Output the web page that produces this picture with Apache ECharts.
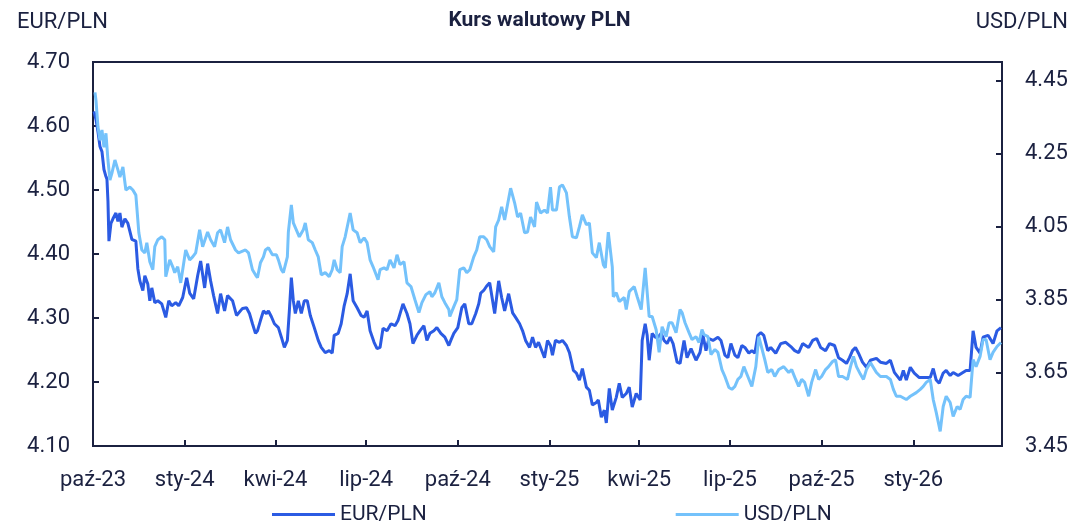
<!DOCTYPE html>
<html>
<head>
<meta charset="utf-8">
<script src="https://cdn.jsdelivr.net/npm/echarts@6/dist/echarts.min.js"></script>
<style>html,body{margin:0;padding:0;background:#fff}#c{width:1079px;height:524px}</style>
</head>
<body>
<div id="c"></div>
<script>
// x values are days since 2023-10-01
const quarterDays = [0, 92, 183, 274, 366, 458, 548, 639, 731, 823];
const quarterLabels = ['paź-23','sty-24','kwi-24','lip-24','paź-24','sty-25','kwi-25','lip-25','paź-25','sty-26'];
const eurTicks = [4.10, 4.20, 4.30, 4.40, 4.50, 4.60, 4.70];
const usdTicks = [3.45, 3.65, 3.85, 4.05, 4.25, 4.45];
const seriesNames = ['EUR/PLN', 'USD/PLN'];

const eurPoints = [[1,4.623],[3,4.610],[5,4.591],[7,4.568],[9,4.560],[11,4.532],[13,4.521],[14,4.517],[15,4.483],[16,4.420],[18,4.448],[20,4.455],[23,4.464],[25,4.451],[27,4.464],[29,4.442],[32,4.455],[35,4.448],[39,4.423],[43,4.420],[45,4.377],[47,4.358],[50,4.343],[52,4.366],[55,4.353],[57,4.327],[59,4.347],[62,4.324],[65,4.327],[69,4.322],[73,4.301],[76,4.327],[79,4.319],[83,4.324],[86,4.319],[90,4.332],[94,4.363],[97,4.339],[101,4.330],[103,4.327],[105,4.366],[108,4.389],[112,4.347],[115,4.385],[118,4.358],[121,4.335],[125,4.307],[128,4.338],[132,4.311],[135,4.335],
[140,4.327],[144,4.304],[146,4.301],[150,4.315],[154,4.316],[157,4.307],[160,4.291],[163,4.276],[165,4.280],[168,4.296],[171,4.311],[174,4.307],[176,4.311],[179,4.302],[182,4.291],[186,4.285],[189,4.270],[192,4.254],[195,4.265],[197,4.311],[199,4.363],[201,4.327],[203,4.307],[206,4.327],[209,4.307],[212,4.327],[215,4.327],[218,4.304],[222,4.285],[226,4.265],[229,4.254],[233,4.246],[237,4.249],[240,4.245],[242,4.273],[246,4.276],[249,4.291],[252,4.319],[255,4.338],[258,4.369],[261,4.327],[265,4.316],[269,4.304],[272,4.301],[275,4.311],[278,4.280],[282,4.262],[285,4.252],[288,4.254],[291,4.284],[295,4.280],[299,4.291],[303,4.288],[306,4.296],[308,4.299],[311,4.322],[315,4.307],[318,4.291],[321,4.260],[325,4.273],[328,4.280],[332,4.288],[335,4.265],[338,4.276],[342,4.280],[345,4.285],[349,4.276],[353,4.270],[357,4.257],[359,4.265],[362,4.276],[366,4.285],[370,4.316],[373,4.322],[377,4.291],[380,4.291],[384,4.307],[387,4.322],[389,4.339],[392,4.343],[395,4.350],[398,4.355],[400,4.358],[403,4.307],[407,4.358],[410,4.332],[413,4.311],[417,4.338],
[421,4.308],[424,4.301],[428,4.291],[431,4.280],[434,4.265],[438,4.254],[441,4.270],[444,4.254],[447,4.262],[449,4.260],[453,4.238],[456,4.265],[459,4.257],[461,4.242],[464,4.265],[468,4.262],[471,4.265],[475,4.257],[478,4.246],[482,4.218],[485,4.214],[488,4.203],[491,4.221],[495,4.192],[498,4.187],[501,4.164],[505,4.168],[507,4.172],[510,4.145],[513,4.156],[515,4.136],[518,4.190],[521,4.156],[525,4.176],[528,4.198],[531,4.176],[535,4.182],[538,4.192],[541,4.161],[545,4.182],[549,4.172],[551,4.265],[554,4.291],[556,4.273],[558,4.234],[561,4.276],[564,4.270],[567,4.270],[570,4.276],[573,4.265],[576,4.260],[579,4.270],[582,4.260],[586,4.231],[589,4.229],[593,4.265],[596,4.238],[600,4.252],[605,4.234],[609,4.246],[612,4.273],[615,4.249],[618,4.268],[622,4.265],[627,4.270],[630,4.265],[634,4.242],[637,4.238],[640,4.260],[644,4.242],[647,4.238],[651,4.257],[654,4.254],[658,4.245],[661,4.249],[664,4.245],[667,4.273],[670,4.277],[673,4.273],[677,4.249],[680,4.254],[685,4.245],[690,4.260],[695,4.262],
[701,4.254],[704,4.249],[708,4.246],[712,4.260],[718,4.254],[722,4.265],[726,4.268],[730,4.254],[735,4.249],[739,4.260],[744,4.257],[748,4.238],[752,4.234],[756,4.229],[759,4.238],[762,4.249],[765,4.254],[768,4.245],[772,4.231],[776,4.223],[780,4.234],[786,4.237],[790,4.231],[796,4.229],[800,4.234],[804,4.215],[806,4.214],[810,4.203],[813,4.218],[816,4.203],[820,4.223],[824,4.214],[829,4.207],[835,4.207],[840,4.207],[843,4.221],[846,4.203],[849,4.198],[853,4.214],[856,4.218],[860,4.210],[863,4.215],[868,4.210],[872,4.214],[876,4.218],[880,4.218],[883,4.280],[886,4.254],[890,4.245],[893,4.270],[898,4.273],[903,4.260],[907,4.280],[911,4.285]];

const usdPoints = [[2,4.417],[3,4.395],[5,4.322],[7,4.286],[9,4.314],[11,4.267],[13,4.305],[15,4.232],[17,4.177],[19,4.196],[22,4.232],[25,4.205],[27,4.185],[30,4.213],[32,4.218],[33,4.150],[37,4.158],[40,4.150],[43,4.136],[46,4.033],[49,3.986],[52,3.978],[54,4.006],[57,3.954],[60,3.932],[62,3.995],[65,4.014],[69,4.022],[72,4.014],[73,3.913],[77,3.959],[80,3.940],[82,3.924],[85,3.940],[88,3.896],[90,3.932],[93,3.986],[97,3.959],[100,3.967],[103,3.978],[107,4.041],[110,3.995],[115,4.035],[118,4.014],[122,3.995],[125,4.033],[128,4.041],[132,4.006],[135,4.049],[138,4.014],
[143,3.986],[146,3.978],[153,3.986],[156,3.978],[160,3.932],[163,3.918],[165,3.910],[168,3.951],[171,3.967],[173,3.986],[176,3.992],[180,3.973],[184,3.973],[186,3.959],[189,3.932],[191,3.924],[195,3.967],[196,4.035],[199,4.109],[201,4.060],[204,4.041],[207,4.022],[211,4.041],[213,4.060],[216,4.014],[220,4.006],[223,3.986],[226,3.967],[229,3.918],[233,3.924],[237,3.913],[240,3.932],[242,3.959],[245,3.932],[248,3.924],[250,3.995],[253,4.022],[258,4.087],[261,4.041],[265,4.033],[268,4.006],[272,4.019],[275,4.006],[278,3.959],[281,3.940],[286,3.905],[288,3.932],[292,3.937],[295,3.932],[298,3.959],[302,3.937],[305,3.973],[308,3.946],[312,3.954],[315,3.896],[319,3.886],[323,3.850],[327,3.815],[330,3.842],[334,3.864],[338,3.872],[340,3.858],[343,3.869],[347,3.896],[350,3.858],[353,3.842],[357,3.823],[358,3.804],[362,3.831],[365,3.850],[368,3.932],[372,3.937],[375,3.924],[378,3.932],[382,3.967],[385,3.986],[388,4.022],[392,4.022],[395,4.014],[398,3.995],[402,3.981],[404,4.049],[407,4.068],[410,4.104],[413,4.068],
[419,4.155],[423,4.115],[426,4.076],[429,4.087],[433,4.033],[436,4.035],[439,4.076],[443,4.049],[445,4.117],[449,4.087],[453,4.095],[456,4.087],[459,4.158],[461,4.095],[465,4.095],[468,4.158],[471,4.164],[475,4.142],[478,4.076],[481,4.022],[485,4.019],[488,4.049],[491,4.082],[495,4.055],[498,4.060],[501,3.978],[505,3.965],[508,4.006],[512,3.946],[514,3.937],[517,4.035],[521,3.940],[522,3.858],[525,3.869],[528,3.845],[533,3.856],[535,3.823],[538,3.872],[543,3.886],[546,3.858],[550,3.823],[554,3.937],[558,3.804],[561,3.804],[565,3.768],[568,3.706],[571,3.776],[575,3.749],[578,3.787],[581,3.787],[585,3.760],[589,3.823],[591,3.815],[594,3.787],[598,3.760],[601,3.741],[605,3.749],[608,3.733],[611,3.768],[613,3.755],[617,3.749],[620,3.700],[624,3.714],[627,3.706],[631,3.659],[634,3.640],[638,3.610],[641,3.605],[644,3.613],[647,3.632],[650,3.640],[653,3.667],[657,3.640],[661,3.613],[665,3.667],[668,3.749],[670,3.749],[674,3.686],[677,3.651],[681,3.659],[684,3.640],[688,3.659],[693,3.667],
[698,3.651],[701,3.659],[705,3.632],[708,3.613],[711,3.632],[714,3.624],[718,3.586],[721,3.624],[725,3.659],[728,3.632],[731,3.640],[735,3.659],[738,3.667],[742,3.681],[745,3.686],[748,3.640],[752,3.640],[757,3.632],[760,3.667],[763,3.695],[766,3.667],[770,3.646],[773,3.632],[776,3.659],[780,3.678],[786,3.651],[790,3.640],[796,3.640],[800,3.632],[803,3.605],[806,3.586],[810,3.586],[816,3.577],[820,3.586],[826,3.596],[830,3.605],[833,3.613],[836,3.624],[840,3.632],[843,3.577],[846,3.542],[850,3.490],[853,3.558],[856,3.586],[860,3.569],[863,3.531],[867,3.558],[870,3.550],[873,3.577],[876,3.586],[880,3.583],[883,3.686],[886,3.667],[890,3.695],[893,3.741],[896,3.741],[900,3.686],[903,3.706],[907,3.722],[911,3.733]];

const INK = '#1b2140';
const EUR_COLOR = '#2b5be3';
const USD_COLOR = '#74c2fb';
const FONT = 'Roboto';

const chart = echarts.init(document.getElementById('c'), null, {renderer: 'canvas'});
chart.setOption({
  animation: false,
  backgroundColor: '#fff',
  textStyle: {fontFamily: FONT, color: INK},
  title: [
    {text: 'Kurs walutowy PLN', left: 'center', top: 10, padding: 0,
     textStyle: {fontFamily: FONT, fontSize: 21, fontWeight: 'bold', color: INK}},
    {text: 'EUR/PLN', left: 17, top: 11, padding: 0,
     textStyle: {fontFamily: FONT, fontSize: 22, fontWeight: 'normal', color: INK}},
    {text: 'USD/PLN', right: 11, top: 11, padding: 0,
     textStyle: {fontFamily: FONT, fontSize: 22, fontWeight: 'normal', color: INK}}
  ],
  legend: {
    data: seriesNames,
    left: 267, top: 499,
    icon: 'rect', itemWidth: 63, itemHeight: 3, itemGap: 249,
    selectedMode: false,
    textStyle: {fontFamily: FONT, fontSize: 21, color: INK}
  },
  grid: {left: 93, right: 77, top: 62, bottom: 78, show: true, borderColor: INK, borderWidth: 2, backgroundColor: 'transparent'},
  xAxis: {
    type: 'value', min: 0, max: 912,
    axisLine: {show: true, lineStyle: {color: INK, width: 2}},
    axisTick: {show: true, inside: true, length: 6, lineStyle: {color: INK, width: 2}, customValues: quarterDays},
    axisLabel: {
      customValues: quarterDays, margin: 23, fontSize: 22, color: INK, fontFamily: FONT,
      formatter: function (v) { const i = quarterDays.indexOf(Math.round(v)); return i >= 0 ? quarterLabels[i] : ''; }
    },
    splitLine: {show: false}
  },
  yAxis: [
    {
      type: 'value', position: 'left', min: 4.10, max: 4.70, interval: 0.10,
      axisLine: {show: true, lineStyle: {color: INK, width: 2}},
      axisTick: {show: true, inside: true, length: 6, lineStyle: {color: INK, width: 2}, customValues: eurTicks},
      axisLabel: {customValues: eurTicks, margin: 23, fontSize: 22, color: INK, fontFamily: FONT, formatter: v => v.toFixed(2)},
      splitLine: {show: false}
    },
    {
      type: 'value', position: 'right', min: 3.45, max: 4.50,
      axisLine: {show: true, lineStyle: {color: INK, width: 2}},
      axisTick: {show: true, inside: true, length: 6, lineStyle: {color: INK, width: 2}, customValues: usdTicks},
      axisLabel: {customValues: usdTicks, margin: 23, fontSize: 22, color: INK, fontFamily: FONT, formatter: v => v.toFixed(2)},
      splitLine: {show: false}
    }
  ],
  series: [
    {name: seriesNames[0], type: 'line', yAxisIndex: 0, data: eurPoints, showSymbol: false, symbol: 'none',
     lineStyle: {color: EUR_COLOR, width: 3}, itemStyle: {color: EUR_COLOR}},
    {name: seriesNames[1], type: 'line', yAxisIndex: 1, data: usdPoints, showSymbol: false, symbol: 'none',
     lineStyle: {color: USD_COLOR, width: 3}, itemStyle: {color: USD_COLOR}}
  ]
});
</script>
</body>
</html>
